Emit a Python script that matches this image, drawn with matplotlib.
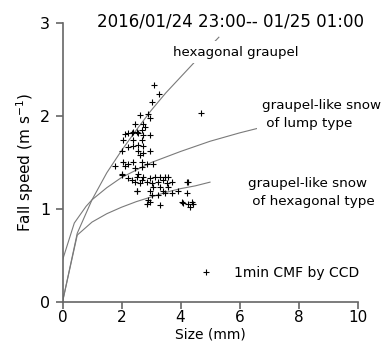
import matplotlib
matplotlib.use('Agg')
import matplotlib.pyplot as plt

# fall speed curves (Locatelli & Hobbs type)
hex_graupel_d = [0.0, 0.5, 1.0, 1.5, 2.0, 2.5, 3.0, 3.5, 4.0, 4.5, 5.0, 5.3]
hex_graupel_v = [0.0, 0.74, 1.10, 1.39, 1.63, 1.85, 2.06, 2.25, 2.42, 2.59, 2.75, 2.85]

lump_snow_d = [0.0, 0.4, 0.8, 1.0, 1.5, 2.0, 2.5, 3.0, 4.0, 5.0, 6.0, 7.0, 8.0, 9.0, 10.0]
lump_snow_v = [0.45, 0.85, 1.03, 1.10, 1.23, 1.34, 1.42, 1.50, 1.62, 1.73, 1.82, 1.90, 1.97, 2.04, 2.10]

hex_snow_d = [0.0, 0.5, 1.0, 1.5, 2.0, 2.5, 3.0, 3.5, 4.0, 4.5, 5.0]
hex_snow_v = [0.0, 0.72, 0.86, 0.95, 1.02, 1.08, 1.13, 1.18, 1.22, 1.25, 1.29]

# 1 min CMF observations
ccd_size = [3.11, 3.27, 3.02, 2.63, 2.91, 2.97, 2.46, 2.74, 2.80, 2.69, 2.23, 2.40,
            2.57, 2.74, 2.97, 2.12, 2.35, 2.51, 2.06, 2.40, 2.68, 2.23, 2.40, 2.57,
            2.74, 2.01, 2.57, 2.63, 2.74, 2.97, 2.06, 2.23, 2.40, 2.68, 2.85, 3.08,
            1.78, 2.12, 2.46, 2.68, 2.01, 2.57, 2.23, 2.35, 2.51, 2.68, 2.74, 2.97,
            3.14, 3.30, 3.47, 3.59, 2.46, 2.63, 2.85, 3.02, 3.25, 3.42, 3.53, 3.70,
            3.08, 3.30, 3.59, 4.21, 2.51, 2.97, 3.42, 3.70, 3.93, 4.21, 3.02, 3.25,
            3.47, 2.91, 2.97, 4.04, 4.26, 4.38, 3.30, 4.68, 4.26, 4.07, 4.32, 4.43,
            2.85, 2.00, 2.51]
ccd_speed = [2.34, 2.24, 2.15, 2.01, 2.02, 1.98, 1.92, 1.92, 1.88, 1.85, 1.82, 1.83,
             1.82, 1.80, 1.80, 1.81, 1.82, 1.83, 1.74, 1.74, 1.74, 1.67, 1.68, 1.69,
             1.68, 1.62, 1.62, 1.58, 1.60, 1.62, 1.51, 1.49, 1.51, 1.51, 1.49, 1.49,
             1.46, 1.46, 1.44, 1.45, 1.38, 1.38, 1.33, 1.31, 1.35, 1.31, 1.35, 1.33,
             1.35, 1.35, 1.35, 1.35, 1.29, 1.28, 1.29, 1.28, 1.29, 1.31, 1.28, 1.29,
             1.24, 1.24, 1.24, 1.29, 1.19, 1.20, 1.19, 1.17, 1.19, 1.17, 1.15, 1.15,
             1.17, 1.10, 1.08, 1.08, 1.06, 1.08, 1.04, 2.03, 1.29, 1.07, 1.02, 1.06,
             1.06, 1.37, 1.19]

title = '2016/01/24 23:00-- 01/25 01:00'
line_col = '#7a7a7a'
axis_col = '#666666'

fig = plt.figure(figsize=(3.87, 3.42), dpi=100)
ax = fig.add_axes([0.1615, 0.117, 0.7623, 0.8149])

ax.plot(hex_graupel_d, hex_graupel_v, color=line_col, lw=0.8, zorder=1)
ax.plot(lump_snow_d, lump_snow_v, color=line_col, lw=0.8, zorder=1)
ax.plot(hex_snow_d, hex_snow_v, color=line_col, lw=0.8, zorder=1)
ax.plot(ccd_size, ccd_speed, '+', color='black', ms=5, mew=0.8,
        label='1min CMF by CCD', zorder=2)

box = dict(facecolor='white', edgecolor='none', pad=3)
ax.text(3.75, 2.69, 'hexagonal graupel', fontsize=9.6, va='center', ha='left',
        bbox=box, zorder=5)
ax.text(6.75, 2.02, 'graupel-like snow\n of lump type', fontsize=9.7, va='center',
        ha='left', linespacing=1.5, bbox=box, zorder=5)
ax.text(6.3, 1.175, 'graupel-like snow\n of hexagonal type', fontsize=9.7,
        va='center', ha='left', linespacing=1.5, bbox=box, zorder=5)
ax.text(0.568, 1.005, title, transform=ax.transAxes, fontsize=12, ha='center',
        va='center')

ax.legend(loc='center left', bbox_to_anchor=(0.45, 0.104), frameon=False,
          fontsize=10, handlelength=1.5, handletextpad=1.3, borderpad=0,
          borderaxespad=0)

ax.set_xlim(0, 10)
ax.set_ylim(0, 3)
ax.set_xticks([0, 2, 4, 6, 8, 10])
ax.set_yticks([0, 1, 2, 3])
ax.spines['top'].set_visible(False)
ax.spines['right'].set_visible(False)
for s in ['left', 'bottom']:
    ax.spines[s].set_color(axis_col)
    ax.spines[s].set_linewidth(1.2)
ax.tick_params(colors=axis_col, labelcolor='black', labelsize=11, length=5,
               width=1.2)
ax.tick_params(axis='x', pad=1)
ax.tick_params(axis='y', pad=4, labelsize=11.5)
ax.set_xlabel('Size (mm)', fontsize=10)
ax.set_ylabel('Fall speed (m s$^{-1}$)', fontsize=11)
ax.xaxis.set_label_coords(0.5, -0.092)
ax.yaxis.set_label_coords(-0.09, 0.5)

fig.savefig('out.png', dpi=100)
